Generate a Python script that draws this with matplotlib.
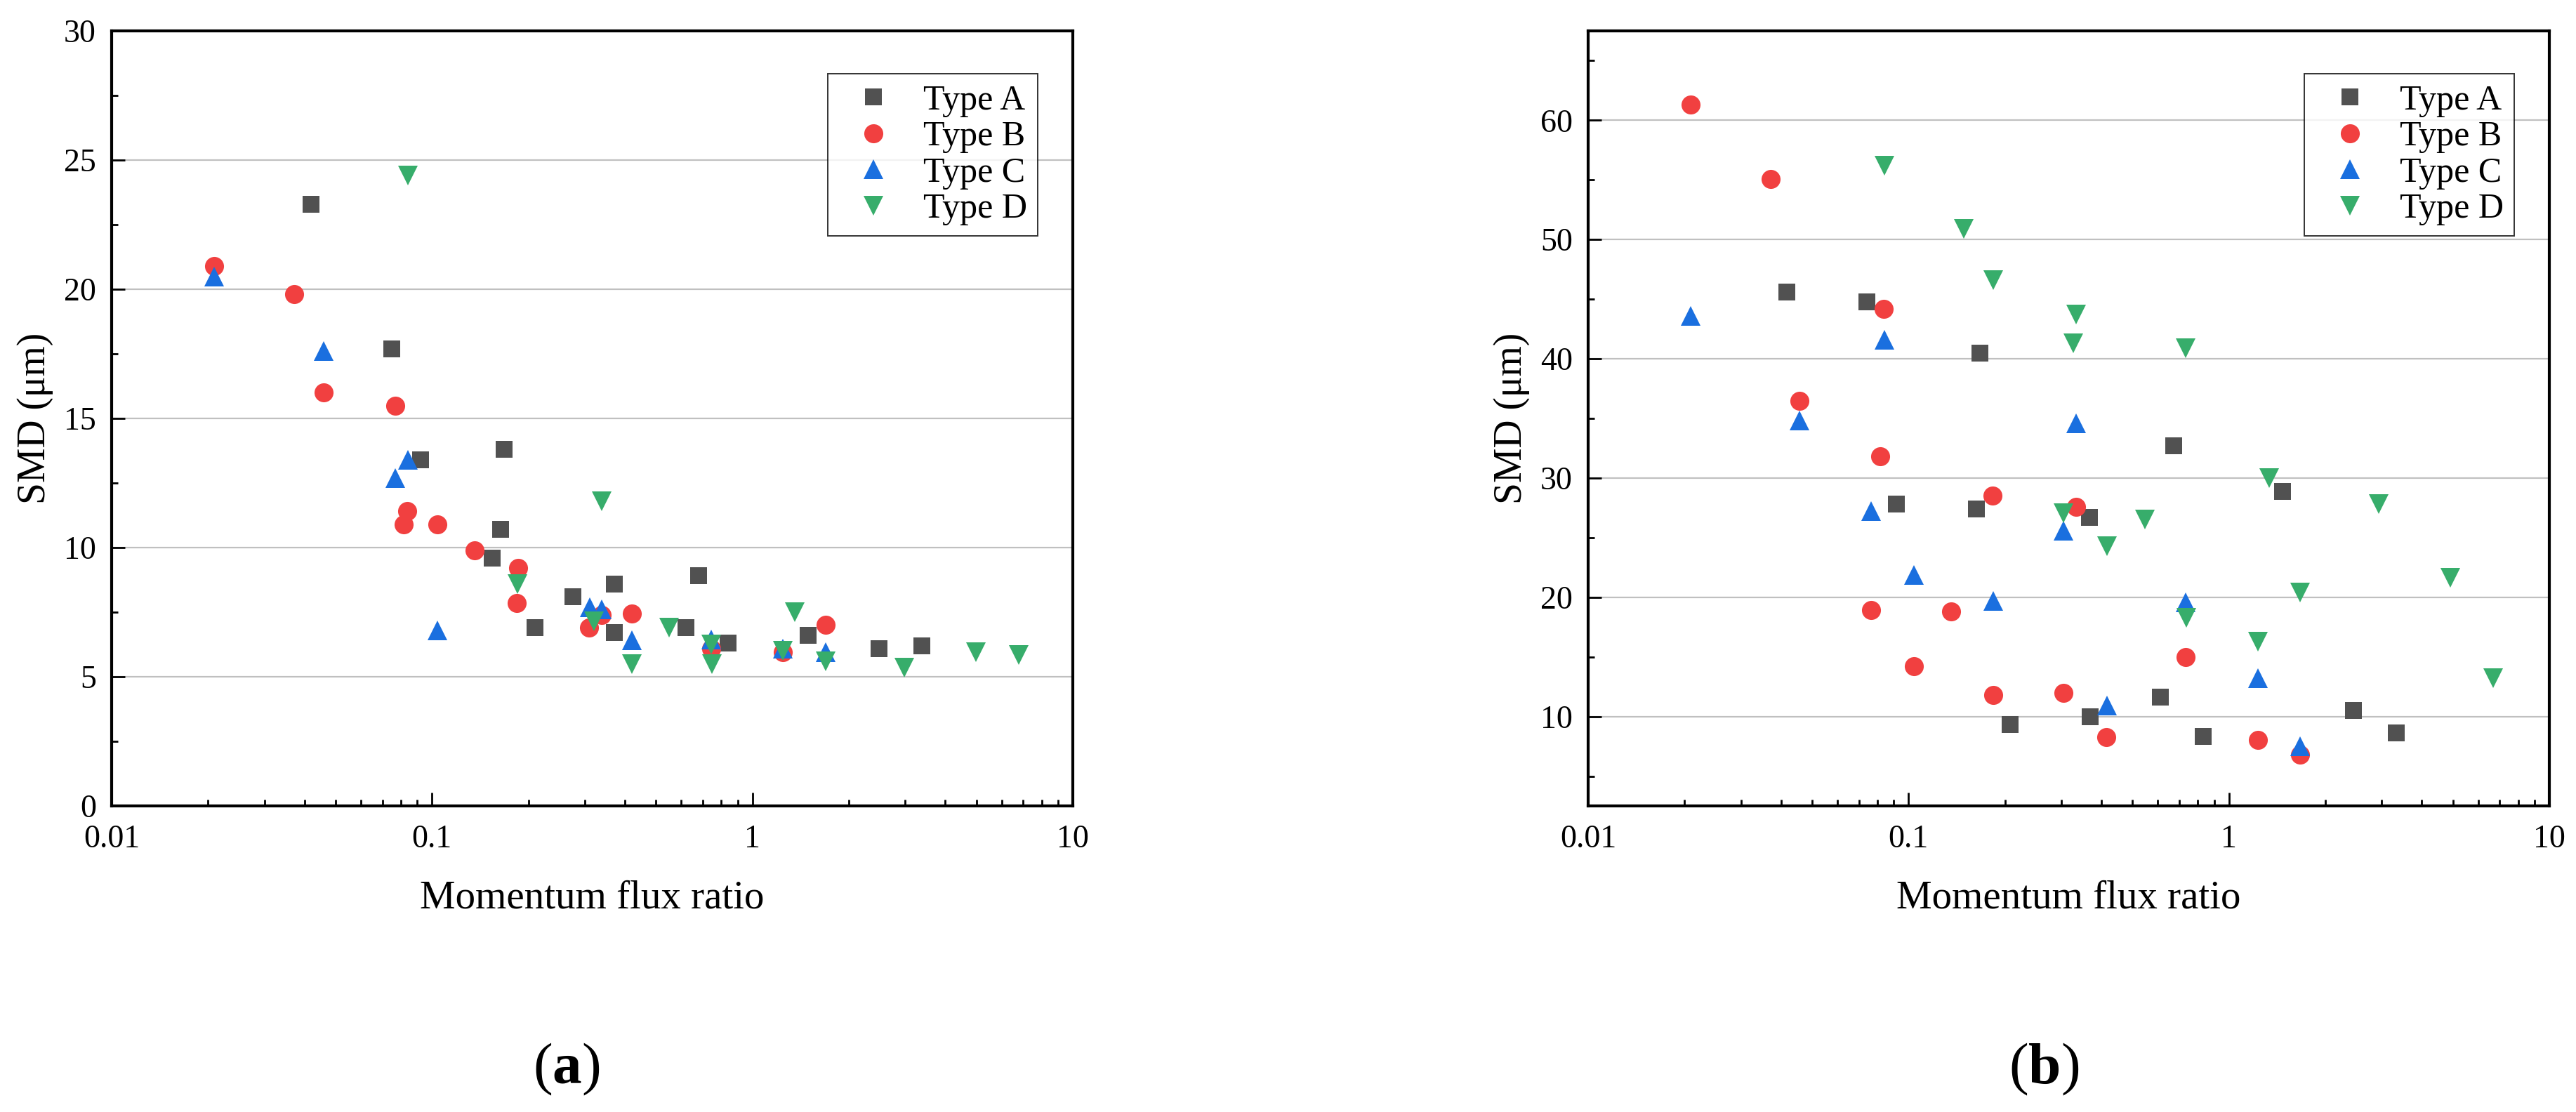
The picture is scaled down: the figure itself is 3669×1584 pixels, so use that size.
import matplotlib.pyplot as plt
from matplotlib.ticker import LogLocator, NullFormatter, MultipleLocator

plt.rcParams['font.family'] = ['Liberation Serif', 'DejaVu Serif']
plt.rcParams['mathtext.fontset'] = 'custom'
plt.rcParams['mathtext.rm'] = 'Liberation Serif'
plt.rcParams['mathtext.bf'] = 'Liberation Serif:bold'

# Panel (a) data: momentum flux ratio vs SMD
a_typeA_x = [0.0419, 0.0747, 0.0921, 0.154, 0.164, 0.168, 0.210, 0.275, 0.370, 0.370, 0.619, 0.678, 0.841, 1.49, 2.49, 3.38]
a_typeA_y = [23.3, 17.7, 13.4, 9.6, 10.7, 13.8, 6.9, 8.1, 8.6, 6.7, 6.9, 8.9, 6.3, 6.6, 6.1, 6.2]
a_typeB_x = [0.0209, 0.0371, 0.0459, 0.0767, 0.0817, 0.0836, 0.104, 0.136, 0.184, 0.186, 0.309, 0.338, 0.421, 0.743, 1.245, 1.69]
a_typeB_y = [20.9, 19.8, 16.0, 15.5, 10.9, 11.4, 10.9, 9.9, 7.85, 9.2, 6.9, 7.4, 7.45, 6.1, 5.95, 7.0]
a_typeC_x = [0.0209, 0.0459, 0.0767, 0.084, 0.104, 0.310, 0.338, 0.421, 0.743, 1.245, 1.69]
a_typeC_y = [20.5, 17.6, 12.7, 13.4, 6.8, 7.7, 7.6, 6.4, 6.45, 6.1, 5.95]
a_typeD_x = [0.084, 0.185, 0.32, 0.338, 0.421, 0.549, 0.743, 0.746, 1.245, 1.356, 1.69, 2.98, 4.99, 6.79]
a_typeD_y = [24.4, 8.6, 7.15, 11.8, 5.5, 6.9, 6.25, 5.5, 6.0, 7.5, 5.6, 5.35, 5.95, 5.85]

# Panel (b) data
b_typeA_x = [0.0418, 0.0741, 0.0914, 0.163, 0.167, 0.208, 0.367, 0.368, 0.612, 0.671, 0.830, 1.468, 2.45, 3.33]
b_typeA_y = [45.6, 44.8, 27.8, 27.4, 40.5, 9.35, 26.7, 9.96, 11.6, 32.7, 8.3, 28.9, 10.5, 8.6]
b_typeB_x = [0.0209, 0.0371, 0.0457, 0.0764, 0.0817, 0.0836, 0.104, 0.136, 0.183, 0.184, 0.305, 0.333, 0.415, 0.734, 1.229, 1.665]
b_typeB_y = [61.3, 55.1, 36.5, 18.9, 31.8, 44.2, 14.2, 18.8, 28.5, 11.8, 12.0, 27.6, 8.26, 15.0, 8.04, 6.8]
b_typeC_x = [0.0209, 0.0457, 0.0764, 0.084, 0.104, 0.184, 0.305, 0.334, 0.417, 0.734, 1.229, 1.665]
b_typeC_y = [43.6, 34.8, 27.2, 41.6, 21.9, 19.7, 25.6, 34.6, 10.9, 19.6, 13.2, 7.5]
b_typeD_x = [0.084, 0.149, 0.184, 0.305, 0.326, 0.334, 0.417, 0.546, 0.734, 0.736, 1.229, 1.337, 1.665, 2.93, 4.91, 6.68]
b_typeD_y = [56.2, 50.9, 46.6, 27.05, 41.3, 43.7, 24.3, 26.5, 40.9, 18.3, 16.3, 30.0, 20.4, 27.8, 21.65, 13.2]

labels = ['Type A', 'Type B', 'Type C', 'Type D']
colors = ['#515151', '#F14040', '#1A6FDF', '#37AD6B']
markers = ['s', 'o', '^', 'v']
sizes = [17.5, 19.5, 20.5, 20.5]

xticks = [0.01, 0.1, 1, 10]
xtick_labels = ['0.01', '0.1', '1', '10']


def draw_panel(ax, series, ylim, ymajor):
    for (x, y), lab, c, m, ms in zip(series, labels, colors, markers, sizes):
        ax.plot(x, y, ls='none', marker=m, ms=ms, color=c, mew=0, label=lab, zorder=3)

    ax.set_xscale('log')
    ax.set_xlim(0.01, 10)
    ax.set_ylim(*ylim)
    ax.set_xticks(xticks, labels=xtick_labels)
    ax.xaxis.set_minor_locator(LogLocator(base=10, subs=range(2, 10)))
    ax.xaxis.set_minor_formatter(NullFormatter())
    ax.yaxis.set_major_locator(MultipleLocator(ymajor))
    ax.yaxis.set_minor_locator(MultipleLocator(ymajor / 2))

    ax.tick_params(which='both', direction='in', top=False, right=False, width=2.0)
    ax.tick_params(which='major', length=14, labelsize=33)
    ax.tick_params(which='minor', length=6.5)
    ax.tick_params(axis='x', which='major', pad=19)
    ax.tick_params(axis='y', which='major', pad=16)
    for sp in ax.spines.values():
        sp.set_linewidth(3.0)

    ax.yaxis.grid(True, which='major', color='#C0C0C0', lw=1.6)
    ax.set_axisbelow(True)

    ax.set_xlabel('Momentum flux ratio', fontsize=41)
    ax.xaxis.set_label_coords(0.5, -0.119)
    ax.xaxis.label.set_va('center')
    ax.set_ylabel('SMD (\u03bcm)', fontsize=40)
    ax.yaxis.set_label_coords(-0.0796, 0.5)
    ax.yaxis.label.set_va('center')

    leg = ax.legend(loc='upper right', bbox_to_anchor=(0.9635, 0.9447), borderaxespad=0,
                    fontsize=36, frameon=True, fancybox=False, handlelength=2.0,
                    handletextpad=0.42, borderpad=0.3, labelspacing=0.1)
    leg.get_frame().set_edgecolor('black')
    leg.get_frame().set_linewidth(1.4)


fig = plt.figure(figsize=(36.69, 15.84), dpi=100)
ax1 = fig.add_axes([0.04334, 0.27525, 0.37312, 0.69697])
ax2 = fig.add_axes([0.61652, 0.27525, 0.37312, 0.69697])

draw_panel(ax1, [(a_typeA_x, a_typeA_y), (a_typeB_x, a_typeB_y),
                 (a_typeC_x, a_typeC_y), (a_typeD_x, a_typeD_y)], (0, 30), 5)
draw_panel(ax2, [(b_typeA_x, b_typeA_y), (b_typeB_x, b_typeB_y),
                 (b_typeC_x, b_typeC_y), (b_typeD_x, b_typeD_y)], (2.5, 67.5), 10)

fig.text(0.22, 0.0385, r'($\mathbf{a}$)', fontsize=60, ha='center', va='center')
fig.text(0.7934, 0.0385, r'($\mathbf{b}$)', fontsize=60, ha='center', va='center')

fig.savefig('out.png', dpi=100)
